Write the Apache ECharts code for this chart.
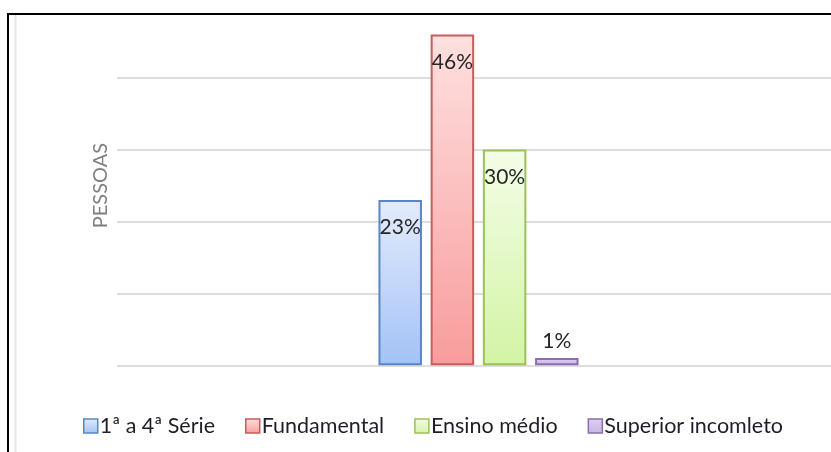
<!DOCTYPE html>
<html>
<head>
<meta charset="utf-8">
<script src="https://cdn.jsdelivr.net/npm/echarts@6/dist/echarts.min.js"></script>
<style>
html,body{margin:0;padding:0;background:#fff;overflow:hidden;width:831px;height:452px;}
#chart{width:840px;height:452px;}
</style>
</head>
<body>
<div id="chart"></div>
<script>
// ---- data ----
const categories = ['1ª a 4ª Série', 'Fundamental', 'Ensino médio', 'Superior incomleto'];
const values = [23, 46, 30, 1];
const axisName = 'PESSOAS';
const yMin = 0, yMax = 50, yInterval = 10;

// ---- styles ----
const fills = [
  ['#e3ecfc', '#a3c2f6'],
  ['#ffe0e0', '#f89c9c'],
  ['#f4fde8', '#d3f4a4'],
  ['#ddd0f0', '#c9b5e6']
];
const borders = ['#5a86c6', '#c95b5b', '#9cc05c', '#8b6eb0'];

function grad(c) {
  return new echarts.graphic.LinearGradient(0, 0, 0, 1, [
    { offset: 0, color: c[0] }, { offset: 1, color: c[1] }
  ]);
}

const chart = echarts.init(document.getElementById('chart'));
const font = 'Lato, "Open Sans", sans-serif';

const series = categories.map((name, i) => ({
  name: name,
  type: 'bar',
  barWidth: 43.5,
  barGap: '20%',
  data: [values[i]],
  itemStyle: { color: grad(fills[i]), borderColor: borders[i], borderWidth: 2 },
  label: {
    show: true,
    position: values[i] < 5 ? 'top' : 'insideTop',
    distance: values[i] < 5 ? 6 : 17,
    formatter: '{c}%',
    color: '#262626',
    fontFamily: font,
    fontSize: 21
  },
  emphasis: { disabled: true }
}));

chart.setOption({
  animation: false,
  backgroundColor: '#fff',
  grid: { left: 117, right: 0, top: 5.8, height: 359.5 },
  xAxis: {
    type: 'category',
    data: [''],
    axisLine: { show: false },
    axisTick: { show: false },
    axisLabel: { show: false },
    splitLine: { show: false }
  },
  yAxis: {
    type: 'value',
    min: yMin, max: yMax, interval: yInterval,
    name: axisName,
    nameLocation: 'middle',
    nameGap: 6,
    nameTextStyle: { color: '#808080', fontFamily: font, fontSize: 20 },
    axisLine: { show: false },
    axisTick: { show: false },
    axisLabel: { show: false },
    splitLine: { show: true, showMaxLine: false, lineStyle: { color: '#dedede', width: 2 } }
  },
  legend: {
    left: 83,
    top: 415,
    padding: 0,
    itemWidth: 14,
    itemHeight: 14,
    itemGap: 30,
    icon: 'rect',
    textStyle: { color: '#1e1e28', fontFamily: font, fontSize: 21.5, padding: [0, 0, 0, -3] },
    data: categories.map((n, i) => ({
      name: n,
      itemStyle: { color: grad(fills[i]), borderColor: borders[i], borderWidth: 1.5 }
    }))
  },
  graphic: [
    { type: 'rect', z: 100, silent: true, shape: { x: 8, y: 14, width: 840, height: 470 },
      style: { fill: 'none', stroke: '#000', lineWidth: 2 } },
    { type: 'line', z: 100, silent: true, shape: { x1: 15.5, y1: 15, x2: 15.5, y2: 460 },
      style: { stroke: '#e6e6e6', lineWidth: 2 } }
  ],
  series: series
});
</script>
</body>
</html>
